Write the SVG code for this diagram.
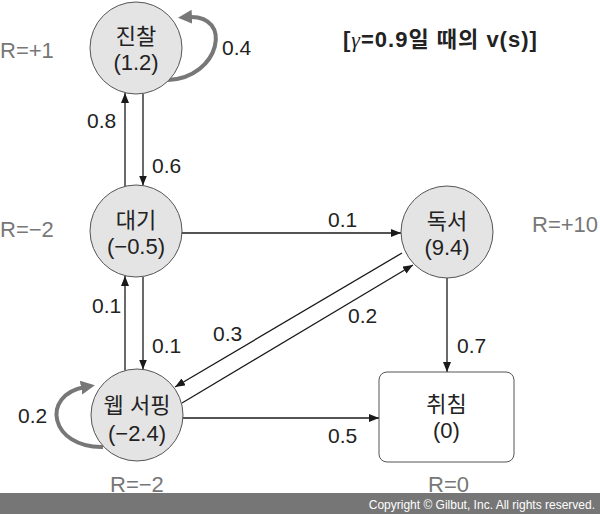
<svg xmlns="http://www.w3.org/2000/svg" width="600" height="514" viewBox="0 0 600 514">
<style>
text{font-family:"Liberation Sans","Noto Sans CJK KR",sans-serif;fill:#222}
.node circle,.node rect{fill:#e4e4e4;stroke:#555;stroke-width:1}
.node rect{fill:#fff}
.nt{font-size:22px;text-anchor:middle}
.el{font-size:21px}
.r{font-size:22px;fill:#777}
.edge{stroke:#1a1a1a;stroke-width:1.3;fill:none;marker-end:url(#ah)}
.loop{stroke:#777;stroke-width:4;fill:none;marker-end:url(#gh)}
</style>
<defs>
<marker id="ah" viewBox="0 0 10 8" refX="10" refY="4" markerWidth="10" markerHeight="8" markerUnits="userSpaceOnUse" orient="auto">
<path d="M0,0 L10,4 L0,8 z" fill="#1a1a1a"/>
</marker>
<marker id="gh" viewBox="0 0 14 14" refX="4" refY="7" markerWidth="14" markerHeight="14" markerUnits="userSpaceOnUse" orient="auto">
<path d="M0,0 L14,7 L0,14 z" fill="#777"/>
</marker>
</defs>
<rect width="600" height="514" fill="#fff"/>
<text x="343" y="47" style="font-size:22px;font-weight:bold;letter-spacing:1px">[<tspan style="font-family:'Liberation Serif',serif;font-style:italic;font-weight:normal">γ</tspan>=0.9일 때의 v(s)]</text>
<g id="connectors">
<path class="loop" d="M168,80 C220,78 234,14 188,17"/>
<path class="loop" d="M103,447 C50,448 40,395 85,387"/>
<line class="edge" x1="143" y1="94" x2="143" y2="185.5"/>
<line class="edge" x1="125" y1="186.5" x2="125" y2="93"/>
<line class="edge" x1="182" y1="233" x2="401" y2="233"/>
<line class="edge" x1="143" y1="277" x2="143" y2="369.5"/>
<line class="edge" x1="125" y1="370.5" x2="125" y2="276"/>
<line class="edge" x1="402" y1="253" x2="175" y2="387"/>
<line class="edge" x1="182" y1="403" x2="413" y2="265"/>
<line class="edge" x1="183" y1="418" x2="379" y2="418"/>
<line class="edge" x1="447" y1="278" x2="447" y2="372"/>
<text class="el" x="222" y="55">0.4</text>
<text class="el" x="87" y="128">0.8</text>
<text class="el" x="152" y="173">0.6</text>
<text class="el" x="328" y="227">0.1</text>
<text class="el" x="92" y="313">0.1</text>
<text class="el" x="152" y="353">0.1</text>
<text class="el" x="213" y="341">0.3</text>
<text class="el" x="348" y="323">0.2</text>
<text class="el" x="457" y="353">0.7</text>
<text class="el" x="328" y="443">0.5</text>
<text class="el" x="18" y="423">0.2</text>
</g>
<g id="n-jinchal" class="node">
<circle cx="136" cy="48" r="46"/>
<text class="nt" x="136" y="44">진찰</text>
<text class="nt" x="136" y="70">(1.2)</text>
</g>
<g id="n-daegi" class="node">
<circle cx="136" cy="231" r="46"/>
<text class="nt" x="136" y="228">대기</text>
<text class="nt" x="136" y="254">(−0.5)</text>
</g>
<g id="n-web" class="node">
<circle cx="137" cy="415" r="46"/>
<text class="nt" x="137" y="413">웹 서핑</text>
<text class="nt" x="137" y="441">(−2.4)</text>
</g>
<g id="n-dokseo" class="node">
<circle cx="447" cy="232" r="46"/>
<text class="nt" x="447" y="229">독서</text>
<text class="nt" x="447" y="255">(9.4)</text>
</g>
<g id="n-chwichim" class="node">
<rect x="379" y="372" width="135" height="90" rx="8"/>
<text class="nt" x="446.5" y="412">취침</text>
<text class="nt" x="446.5" y="438">(0)</text>
</g>
<g id="rewards">
<text class="r" x="0" y="58">R=+1</text>
<text class="r" x="0" y="237">R=−2</text>
<text class="r" x="110" y="492">R=−2</text>
<text class="r" x="428" y="492">R=0</text>
<text class="r" x="532" y="232">R=+10</text>
</g>
<rect x="0" y="493" width="600" height="21" fill="#767676"/>
<text x="595" y="509" style="font-size:12px;fill:#fff;text-anchor:end">Copyright © Gilbut, Inc. All rights reserved.</text>
</svg>
